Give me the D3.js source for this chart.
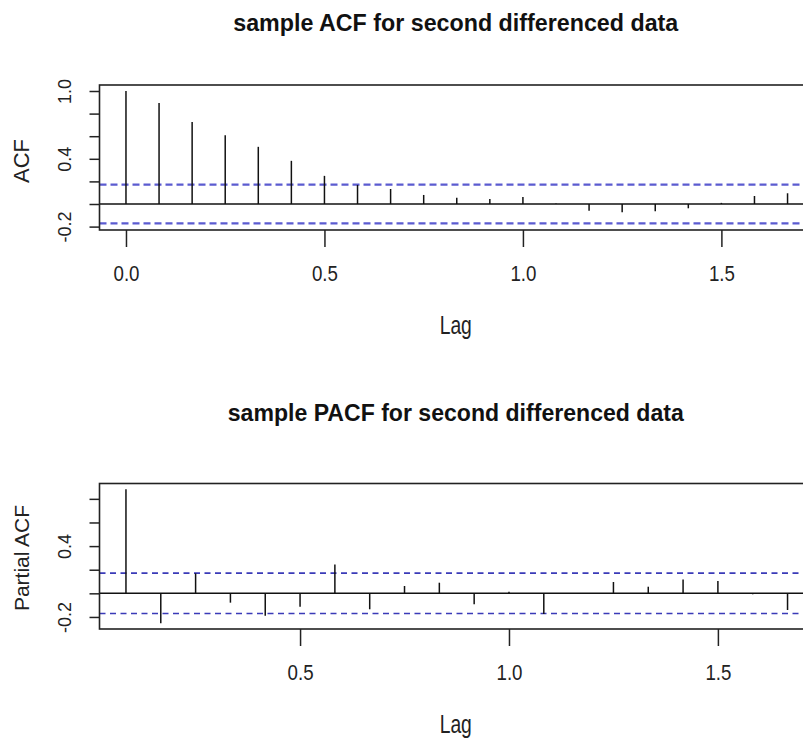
<!DOCTYPE html>
<html lang="en">
<head>
<meta charset="UTF-8">
<title>sample ACF / PACF for second differenced data</title>
<script src="https://d3js.org/d3.v7.min.js"></script>
<style>
  body { margin: 0; background: #fff; }
  svg { display: block; font-family: "Liberation Sans", Arial, sans-serif; }
</style>
</head>
<body>
<svg id="chart" width="803" height="740"></svg>
<script>
  // lags in months (series frequency 12, axis shows years)
  const acfLags = [0, 1, 2, 3, 4, 5, 6, 7, 8, 9, 10, 11, 12, 13, 14, 15, 16, 17, 18, 19, 20];
  const acfValues = [1.0, 0.893, 0.725, 0.609, 0.506, 0.382, 0.249, 0.169, 0.133, 0.080, 0.056,
                     0.044, 0.062, 0.005, -0.059, -0.074, -0.065, -0.038, 0.010, 0.071, 0.095];
  const pacfLags = [1, 2, 3, 4, 5, 6, 7, 8, 9, 10, 11, 12, 13, 14, 15, 16, 17, 18, 19, 20];
  const pacfValues = [0.882, -0.254, 0.169, -0.079, -0.189, -0.113, 0.245, -0.135, 0.062, 0.090,
                      -0.093, 0.014, -0.175, 0.003, 0.096, 0.056, 0.118, 0.104, -0.008, -0.141];
  const frequency = 12;
  const ciBound = 0.171;

  const acfXTicks = [0, 0.5, 1.0, 1.5];
  const pacfXTicks = [0.5, 1.0, 1.5];
  const acfYTicks = [-0.2, 0, 0.2, 0.4, 0.6, 0.8, 1.0];
  const acfYLabels = [-0.2, 0.4, 1.0];
  const pacfYTicks = [-0.2, 0, 0.2, 0.4, 0.6, 0.8];
  const pacfYLabels = [-0.2, 0.4];

  const svg = d3.select("#chart");

  function drawPanel(p) {
    const x = d3.scaleLinear().domain(p.xDomain).range([p.left, p.right]);
    const y = d3.scaleLinear().domain(p.yDomain).range([p.bottom, p.top]);
    const g = svg.append("g");

    // title
    g.append("text")
      .attr("x", (p.left + p.right) / 2 - 1).attr("y", p.titleY)
      .attr("text-anchor", "middle")
      .attr("font-size", "23px").attr("font-weight", "bold")
      .attr("fill", "#111")
      .attr("textLength", p.titleWidth).attr("lengthAdjust", "spacingAndGlyphs")
      .text(p.title);

    // confidence bounds
    g.selectAll(".ci")
      .data([ciBound, -ciBound])
      .enter().append("line")
      .attr("x1", p.left).attr("x2", p.right)
      .attr("y1", d => y(d)).attr("y2", d => y(d))
      .attr("stroke", p.ciColor).attr("stroke-width", p.ciWidth)
      .attr("stroke-dasharray", p.dash);

    // zero line
    g.append("line")
      .attr("x1", p.left).attr("x2", p.right)
      .attr("y1", y(0)).attr("y2", y(0))
      .attr("stroke", "#111").attr("stroke-width", 1.5);

    // spikes
    g.selectAll(".spike")
      .data(p.lags.map((l, i) => ({lag: l / frequency, value: p.values[i]})))
      .enter().append("line")
      .attr("x1", d => x(d.lag)).attr("x2", d => x(d.lag))
      .attr("y1", y(0)).attr("y2", d => y(d.value))
      .attr("stroke", "#111").attr("stroke-width", 1.5);

    // frame
    g.append("rect")
      .attr("x", p.left).attr("y", p.top)
      .attr("width", p.right - p.left).attr("height", p.bottom - p.top)
      .attr("fill", "none").attr("stroke", "#222").attr("stroke-width", 1.6);

    // y axis
    const yAxis = g.append("g")
      .attr("transform", `translate(${p.left},0)`)
      .call(d3.axisLeft(y).tickValues(p.yTicks).tickSize(10).tickSizeOuter(0)
        .tickFormat(d => p.yLabels.some(v => Math.abs(v - d) < 1e-9) ? d.toFixed(1) : ""));
    yAxis.select(".domain").remove();
    yAxis.selectAll(".tick line").attr("stroke", "#222").attr("stroke-width", 1.5);
    yAxis.selectAll(".tick text")
      .attr("x", 0).attr("y", 0).attr("dy", 0)
      .attr("transform", "translate(-29,0) rotate(-90)")
      .attr("text-anchor", "middle")
      .attr("font-size", "18px").attr("fill", "#222");

    // x axis
    const xAxis = g.append("g")
      .attr("transform", `translate(0,${p.bottom})`)
      .call(d3.axisBottom(x).tickValues(p.xTicks).tickSize(17).tickSizeOuter(0)
        .tickFormat(d => d.toFixed(1)));
    xAxis.select(".domain").remove();
    xAxis.selectAll(".tick line").attr("stroke", "#222").attr("stroke-width", 1.5);
    xAxis.selectAll(".tick text")
      .attr("y", 51).attr("dy", 0)
      .attr("transform", "scale(0.85,1)")
      .attr("font-size", "22px").attr("fill", "#222");

    // axis titles
    g.append("text")
      .attr("transform", `translate(${(p.left + p.right) / 2 - 1},${p.bottom + 104}) scale(0.77,1)`)
      .attr("text-anchor", "middle")
      .attr("font-size", "25px").attr("fill", "#222")
      .text("Lag");

    g.append("text")
      .attr("transform", `translate(29,${p.yTitleCenter}) rotate(-90)`)
      .attr("text-anchor", "middle")
      .attr("font-size", p.yTitleSize).attr("fill", "#222")
      .text(p.yTitle);
  }

  drawPanel({
    title: "sample ACF for second differenced data",
    titleY: 31, titleWidth: 445,
    yTitle: "ACF", yTitleCenter: 161, yTitleSize: "22px",
    lags: acfLags, values: acfValues,
    left: 99.5, right: 814, top: 85, bottom: 230,
    xDomain: [-0.0667, 1.7333], yDomain: [-0.2301, 1.0531],
    xTicks: acfXTicks, yTicks: acfYTicks, yLabels: acfYLabels,
    ciColor: "#5b5bd0", ciWidth: 2.2, dash: "7,4"
  });

  drawPanel({
    title: "sample PACF for second differenced data",
    titleY: 421, titleWidth: 456,
    yTitle: "Partial ACF", yTitleCenter: 558, yTitleSize: "21px",
    lags: pacfLags, values: pacfValues,
    left: 99.5, right: 814, top: 483.5, bottom: 629,
    xDomain: [0.02, 1.73], yDomain: [-0.302, 0.930],
    xTicks: pacfXTicks, yTicks: pacfYTicks, yLabels: pacfYLabels,
    ciColor: "#3a3ab8", ciWidth: 1.6, dash: "6,4.5"
  });
</script>
</body>
</html>
